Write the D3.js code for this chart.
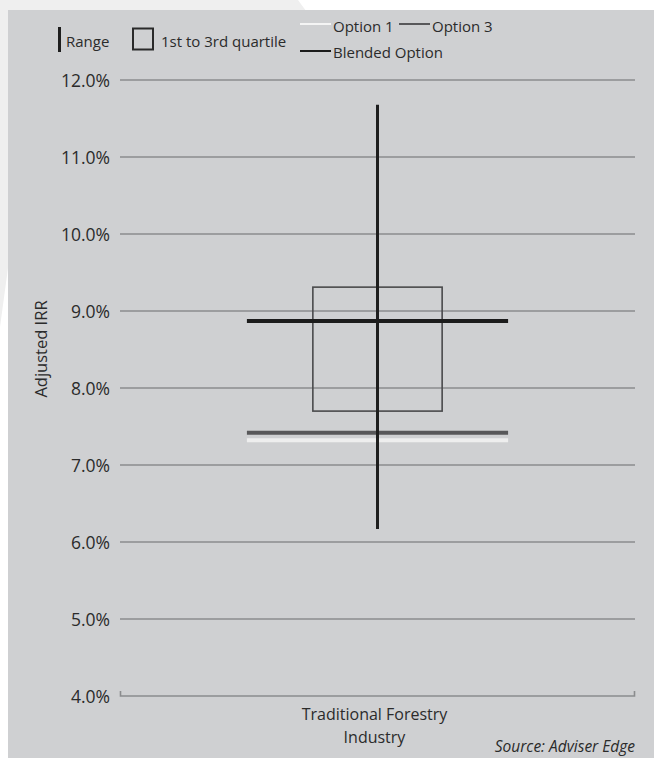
<!DOCTYPE html>
<html>
<head>
<meta charset="utf-8">
<script src="https://cdn.jsdelivr.net/npm/d3@7"></script>
<style>
  html, body { margin: 0; padding: 0; background: #ffffff; }
  svg { display: block; }
  text { font-family: "Open Sans", "Noto Sans", sans-serif; fill: #2b2b2b; }
</style>
</head>
<body>
<script>
// Adjusted IRR by category: range, interquartile box and option markers
const categories = ["Traditional Forestry Industry"];
const categoryLines = [["Traditional Forestry", "Industry"]];
const rangeLow = [0.0617];
const rangeHigh = [0.1168];
const quartile1 = [0.0770];
const quartile3 = [0.0931];
const option1 = [0.0732];
const option3 = [0.0742];
const blendedOption = [0.0887];
const yTicks = [0.04, 0.05, 0.06, 0.07, 0.08, 0.09, 0.10, 0.11, 0.12];

const W = 654, H = 758;
const svg = d3.select("body").append("svg").attr("width", W).attr("height", H);

// page backdrop
svg.append("polygon")
  .attr("points", "0,0 298,0 320,30 8,268 0,327")
  .attr("fill", "#efefef");
svg.append("rect")
  .attr("x", 8).attr("y", 10).attr("width", W - 8).attr("height", H - 10)
  .attr("fill", "#cfd0d2");

const y = d3.scaleLinear().domain([0.04, 0.12]).range([696, 80]);
const x = d3.scaleBand().domain(categories).range([120, 635]).padding(0.327);

// gridlines
const grid = svg.append("g");
grid.selectAll("line").data(yTicks.filter(t => t > 0.04)).join("line")
  .attr("x1", 120).attr("x2", 635)
  .attr("y1", d => y(d)).attr("y2", d => y(d))
  .attr("stroke", "#8b8c8e").attr("stroke-width", 1.6);

// category axis at the bottom, with end ticks pointing up
const xAxis = d3.axisBottom(x).tickSize(0).tickFormat("");
const gx = svg.append("g").attr("transform", `translate(0,${y(0.04)})`).call(xAxis);
gx.select(".domain").remove();
gx.append("path")
  .attr("d", `M120.5,${-5}V0H634.5V${-5}`)
  .attr("fill", "none").attr("stroke", "#8b8c8e").attr("stroke-width", 1.6);

// y tick labels
const yAxis = d3.axisLeft(y).tickValues(yTicks).tickSize(0).tickPadding(0)
  .tickFormat(d3.format(".1%"));
const gy = svg.append("g").attr("transform", "translate(110,0)").call(yAxis);
gy.select(".domain").remove();
gy.selectAll("text")
  .attr("font-size", 17.5).attr("fill", "#333").attr("dy", "0.36em")
  .style("font-family", '"Open Sans", sans-serif');

// category label
categories.forEach((c, i) => {
  const t = svg.append("text")
    .attr("x", x(c) + x.bandwidth() / 2 - 3).attr("y", 720)
    .attr("text-anchor", "middle").attr("font-size", 16).attr("fill", "#333");
  categoryLines[i].forEach((ln, j) => {
    t.append("tspan").attr("x", x(c) + x.bandwidth() / 2 - 3).attr("dy", j ? 23 : 0).text(ln);
  });
});

// axis title
svg.append("text")
  .attr("transform", "translate(47,349) rotate(-90)")
  .attr("text-anchor", "middle").attr("font-size", 16.5).attr("fill", "#333")
  .text("Adjusted IRR");

// marks
const marks = svg.append("g");
categories.forEach((c, i) => {
  const cx = x(c) + x.bandwidth() / 2;
  const half = x.bandwidth() / 2;
  const boxHalf = x.bandwidth() / 4 * 0.99;

  marks.append("rect")
    .attr("x", cx - boxHalf).attr("width", boxHalf * 2)
    .attr("y", y(quartile3[i])).attr("height", y(quartile1[i]) - y(quartile3[i]))
    .attr("fill", "none").attr("stroke", "#4a4a4c").attr("stroke-width", 1.6);

  marks.append("line")
    .attr("x1", cx - half).attr("x2", cx + half)
    .attr("y1", y(blendedOption[i])).attr("y2", y(blendedOption[i]))
    .attr("stroke", "#1c1c1c").attr("stroke-width", 4);
  marks.append("line")
    .attr("x1", cx - half).attr("x2", cx + half)
    .attr("y1", y(option3[i])).attr("y2", y(option3[i]))
    .attr("stroke", "#58585a").attr("stroke-width", 4);
  marks.append("line")
    .attr("x1", cx - half).attr("x2", cx + half)
    .attr("y1", y(option1[i])).attr("y2", y(option1[i]))
    .attr("stroke", "#eeeeee").attr("stroke-width", 4);

  marks.append("line")
    .attr("x1", cx).attr("x2", cx)
    .attr("y1", y(rangeHigh[i])).attr("y2", y(rangeLow[i]))
    .attr("stroke", "#1e1e1e").attr("stroke-width", 3);
});

// legend
const lg = svg.append("g");
lg.append("rect").attr("x", 58).attr("y", 27).attr("width", 3).attr("height", 25).attr("fill", "#1e1e1e");
lg.append("text").attr("x", 66).attr("y", 46.5).attr("font-size", 15).text("Range");
lg.append("rect").attr("x", 133).attr("y", 28.5).attr("width", 20).attr("height", 21)
  .attr("fill", "none").attr("stroke", "#2a2a2a").attr("stroke-width", 2);
lg.append("text").attr("x", 161).attr("y", 46.5).attr("font-size", 15).text("1st to 3rd quartile");

const lineItems = [
  { label: "Option 1", color: "#f4f4f4", x: 300, y: 24, ty: 31.5 },
  { label: "Option 3", color: "#58585a", x: 399, y: 24, ty: 31.5 },
  { label: "Blended Option", color: "#1c1c1c", x: 300, y: 51, ty: 57.5 }
];
lineItems.forEach(d => {
  lg.append("line").attr("x1", d.x).attr("x2", d.x + 31)
    .attr("y1", d.y).attr("y2", d.y).attr("stroke", d.color).attr("stroke-width", 2);
  lg.append("text").attr("x", d.x + 33).attr("y", d.ty).attr("font-size", 15).text(d.label);
});

// source note
svg.append("text")
  .attr("x", 635).attr("y", 751.5).attr("text-anchor", "end")
  .attr("font-size", 15.5).attr("font-style", "italic").attr("fill", "#1e1e1e")
  .text("Source: Adviser Edge");
</script>
</body>
</html>
